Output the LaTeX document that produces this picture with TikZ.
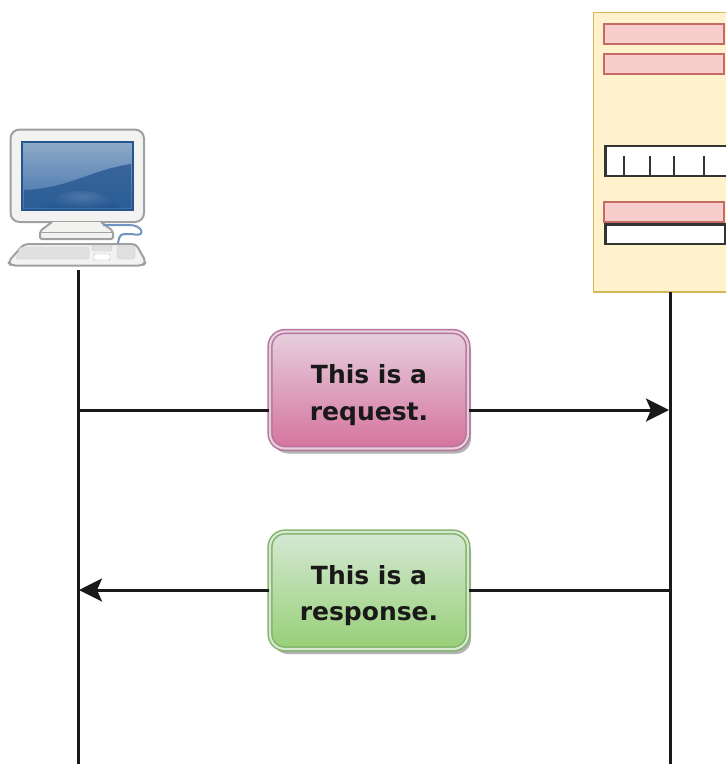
\documentclass[tikz,border=0pt]{standalone}
\usepackage{fontspec}
\setmainfont{DejaVu Sans}
\usetikzlibrary{arrows.meta,shadows}
\definecolor{pinkline}{HTML}{B5739D}
\definecolor{pinktop}{HTML}{E6D0DE}
\definecolor{pinkbot}{HTML}{D5739D}
\definecolor{greenline}{HTML}{82B366}
\definecolor{greentop}{HTML}{D5E8D4}
\definecolor{greenbot}{HTML}{97D077}
\definecolor{srvfill}{HTML}{FFF2CC}
\definecolor{srvline}{HTML}{D6B656}
\definecolor{redfill}{HTML}{F8CECC}
\definecolor{redline}{HTML}{C76A66}
\definecolor{scrdark}{HTML}{24558F}
\definecolor{scrmid}{HTML}{3F72AB}
\definecolor{scrlight}{HTML}{8FA9C8}
\definecolor{pcline}{HTML}{A0A0A0}
\definecolor{pcfill}{HTML}{F2F2F0}
\newcommand{\pushtext}{\rule{0pt}{29pt}}
\tikzset{
  x=1pt,y=-1pt,
  msgbox/.style={rounded corners=15pt,minimum width=198pt,minimum height=117pt,inner sep=0pt,
    align=center,font=\fontsize{25}{36.5}\selectfont\bfseries,text=black!90,
    draw,double distance=2.2pt,line width=1.5pt,
    general shadow={shadow xshift=3pt,shadow yshift=-5pt,fill=black!30,rounded corners=15pt}},
  reqbox/.style={msgbox,draw=pinkline,double=pinktop,top color=pinktop,bottom color=pinkbot},
  resbox/.style={msgbox,draw=greenline,double=greentop,top color=greentop,bottom color=greenbot},
  lifeline/.style={draw=black!90,line width=3pt},
  msgline/.style={draw=black!90,line width=3pt},
  msgarrow/.style={msgline,-{Stealth[length=23pt,width=23pt,inset=5pt]}},
  redbar/.style={draw=redline,fill=redfill,line width=2pt},
  blackbar/.style={draw=black!80,fill=white,line width=2.2pt},
  pcpart/.style={draw=pcline,fill=pcfill,line width=2pt,line join=round},
}
\begin{document}
\begin{tikzpicture}
\useasboundingbox (0,0) rectangle (726,764);
\clip (0,0) rectangle (726,764);

% server
\draw[draw=srvline,fill=srvfill,line width=1.8pt] (593.5,12.5) rectangle (740,292);
\draw[redbar] (603.5,24) rectangle (724,44);
\draw[redbar] (603.5,54) rectangle (724,74);
\draw[blackbar] (605.5,146) rectangle (740,176);
\foreach \tx in {623.5,650,674,704}
  \draw[black!80,line width=2pt] (\tx,156) -- (\tx,176);
\draw[blackbar] (605.5,224.5) rectangle (725,244);
\draw[redbar] (603.5,202) rectangle (724,222);

% computer
\draw[pcpart,rounded corners=9pt] (10.5,129.5) rectangle (144,222);
\shade[top color=scrlight,bottom color=scrmid] (22,142) rectangle (133,210);
\fill[scrdark,opacity=.75] (24,190) .. controls (70,188) and (90,170) .. (131,164) -- (131,208) -- (24,208) -- cycle;
\shade[inner color=scrmid!75!white,outer color=scrdark,opacity=.45] (45,208) .. controls (60,185) and (100,185) .. (120,208) -- cycle;
\draw[scrdark,line width=2pt] (22,142) rectangle (133,210);
\draw[pcpart,rounded corners=2pt] (52,222) -- (40,231) -- (40,239) -- (113,239) -- (113,231) -- (101,222);
\draw[pcline,line width=1pt] (40,232) -- (113,232);
\draw[color=scrmid!75,line width=2pt,rounded corners=4pt] (103,225) -- (125,225) .. controls (143,225) and (145,236) .. (132,234) -- (120,234) -- (118,243);
\draw[pcpart,rounded corners=4pt] (24,244) -- (136,244) -- (146,262) -- (143,265.5) -- (11,265.5) -- (8,262) -- cycle;
\draw[draw=black!20,fill=black!12,rounded corners=2pt] (20,247) -- (89,247) -- (89,259) -- (16,259) -- cycle;
\draw[draw=black!22,fill=black!12,rounded corners=2pt] (92,245) rectangle (112,251);
\draw[draw=black!30,fill=white,rounded corners=1pt] (94,254) rectangle (110,260);
\draw[draw=black!22,fill=black!12,rounded corners=3pt] (117,246) rectangle (135,259);

% anchors of the lifelines
\coordinate (pcfoot) at (78,270);
\coordinate (pcend) at (78,764);
\coordinate (srvfoot) at (670,292);
\coordinate (srvend) at (670,764);
\coordinate (pcreq) at (78,410);
\coordinate (srvreq) at (669,410);
\coordinate (srvres) at (670,590);
\coordinate (pcres) at (79,590);

\draw[lifeline] (pcfoot) -- (pcend);
\draw[lifeline] (srvfoot) -- (srvend);

\node[reqbox] (request) at (369,390) {\pushtext This is a\\request.};
\node[resbox] (response) at (369,590.5) {\pushtext This is a\\response.};

\draw[msgline] (pcreq) -- (request.west |- pcreq);
\draw[msgarrow] (request.east |- srvreq) -- (srvreq);
\draw[msgline] (srvres) -- (response.east |- srvres);
\draw[msgarrow] (response.west |- pcres) -- (pcres);
\end{tikzpicture}
\end{document}
